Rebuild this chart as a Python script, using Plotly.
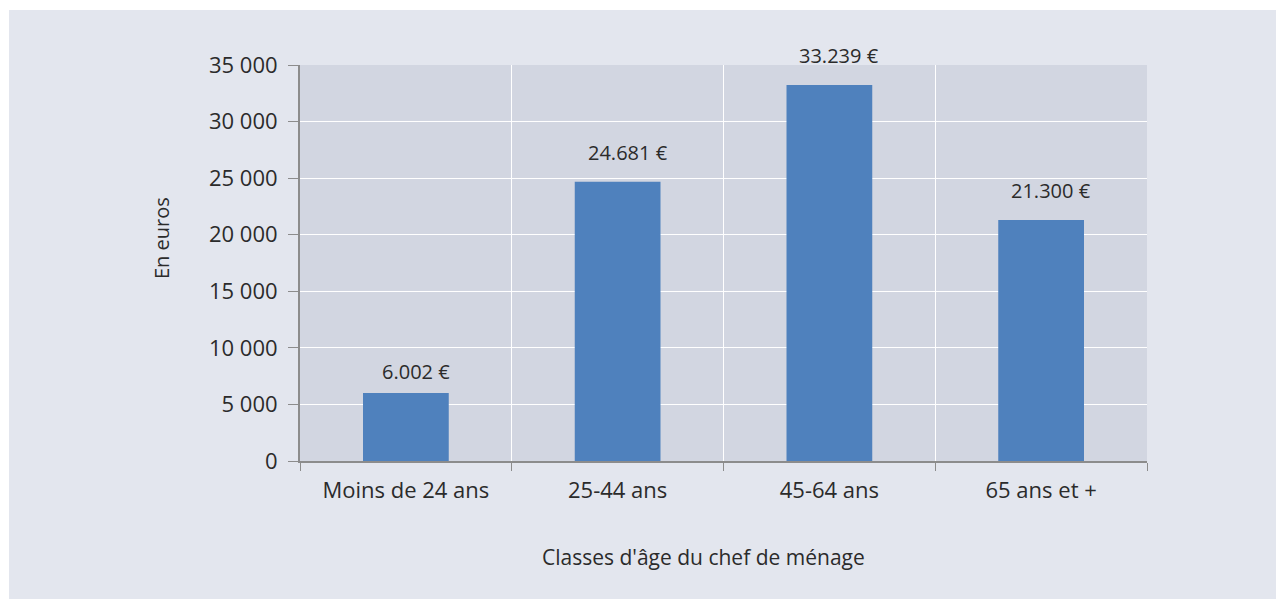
import plotly.graph_objects as go

categories = ["Moins de 24 ans", "25-44 ans", "45-64 ans", "65 ans et +"]
values = [6002, 24681, 33239, 21300]
value_labels = ["6.002 €", "24.681 €", "33.239 €", "21.300 €"]
ytick_vals = [0, 5000, 10000, 15000, 20000, 25000, 30000, 35000]
ytick_text = ["0", "5 000", "10 000", "15 000", "20 000", "25 000", "30 000", "35 000"]
y_title = "En euros"
x_title = "Classes d'âge du chef de ménage"

# page is drawn with an 8px body margin -> figure is offset by 8px
OFF = 8
PW, PH = 1284, 599
W, H = PW - OFF, PH - OFF
PX0, PX1, PY0, PY1 = 300, 1147, 65, 461  # plot area in page pixels
L, R, T, B = PX0 - OFF, PW - PX1, PY0 - OFF, PH - PY1
FONT = "Open Sans"
TXT = "#2b2b2b"


def fx(px):
    return (px - PX0) / (PX1 - PX0)


def fy(py):
    return (PY1 - py) / (PY1 - PY0)


fig = go.Figure()
fig.add_trace(go.Bar(x=categories, y=values, marker=dict(color="#4f81bd", line=dict(width=0)),
                     width=0.405, hoverinfo="skip"))

label_shifts = [6, 14, 14, 14]
for c, v, t, s in zip(categories, values, value_labels, label_shifts):
    fig.add_annotation(x=c, y=v, text=t, showarrow=False, yanchor="bottom",
                       xshift=10, yshift=s, font=dict(family=FONT, size=20, color=TXT))

# outer light panel (white border at top/left)
fig.add_shape(type="rect", xref="paper", yref="paper",
              x0=fx(9), x1=fx(PW + 20), y0=fy(PH + 20), y1=fy(10),
              fillcolor="#e3e6ee", line=dict(width=0), layer="below")
# plot area
fig.add_shape(type="rect", xref="x domain", yref="y domain", x0=0, x1=1, y0=0, y1=1,
              fillcolor="#d2d6e1", line=dict(width=0), layer="below")

fig.add_annotation(xref="paper", yref="paper", x=fx(161), y=fy(238),
                   text=y_title, textangle=-90, showarrow=False, xanchor="center", yanchor="middle",
                   font=dict(family=FONT, size=20, color=TXT))
fig.add_annotation(xref="paper", yref="paper", x=fx(703), y=fy(557),
                   text=x_title, showarrow=False, xanchor="center", yanchor="middle",
                   font=dict(family=FONT, size=21, color=TXT))

fig.update_layout(
    width=W, height=H, margin=dict(l=L, r=R, t=T, b=B),
    paper_bgcolor="white", plot_bgcolor="rgba(0,0,0,0)",
    showlegend=False, bargap=0.595,
    font=dict(family=FONT, size=22, color=TXT),
)
fig.update_xaxes(tickson="boundaries", ticks="outside", ticklen=8, tickcolor="#8c8c8c",
                 showline=True, linecolor="#8c8c8c", linewidth=2,
                 showgrid=True, gridcolor="white", gridwidth=1,
                 tickfont=dict(family=FONT, size=22, color=TXT), ticklabelstandoff=9, fixedrange=True)
fig.update_yaxes(range=[0, 35000], tickvals=ytick_vals, ticktext=ytick_text,
                 ticks="outside", ticklen=10, tickcolor="#8c8c8c",
                 showline=True, linecolor="#8c8c8c", linewidth=2,
                 showgrid=True, gridcolor="white", gridwidth=1, zeroline=False,
                 tickfont=dict(family=FONT, size=22, color=TXT), ticklabelstandoff=6, fixedrange=True)

fig.write_html("out.html", config=dict(displayModeBar=False))
